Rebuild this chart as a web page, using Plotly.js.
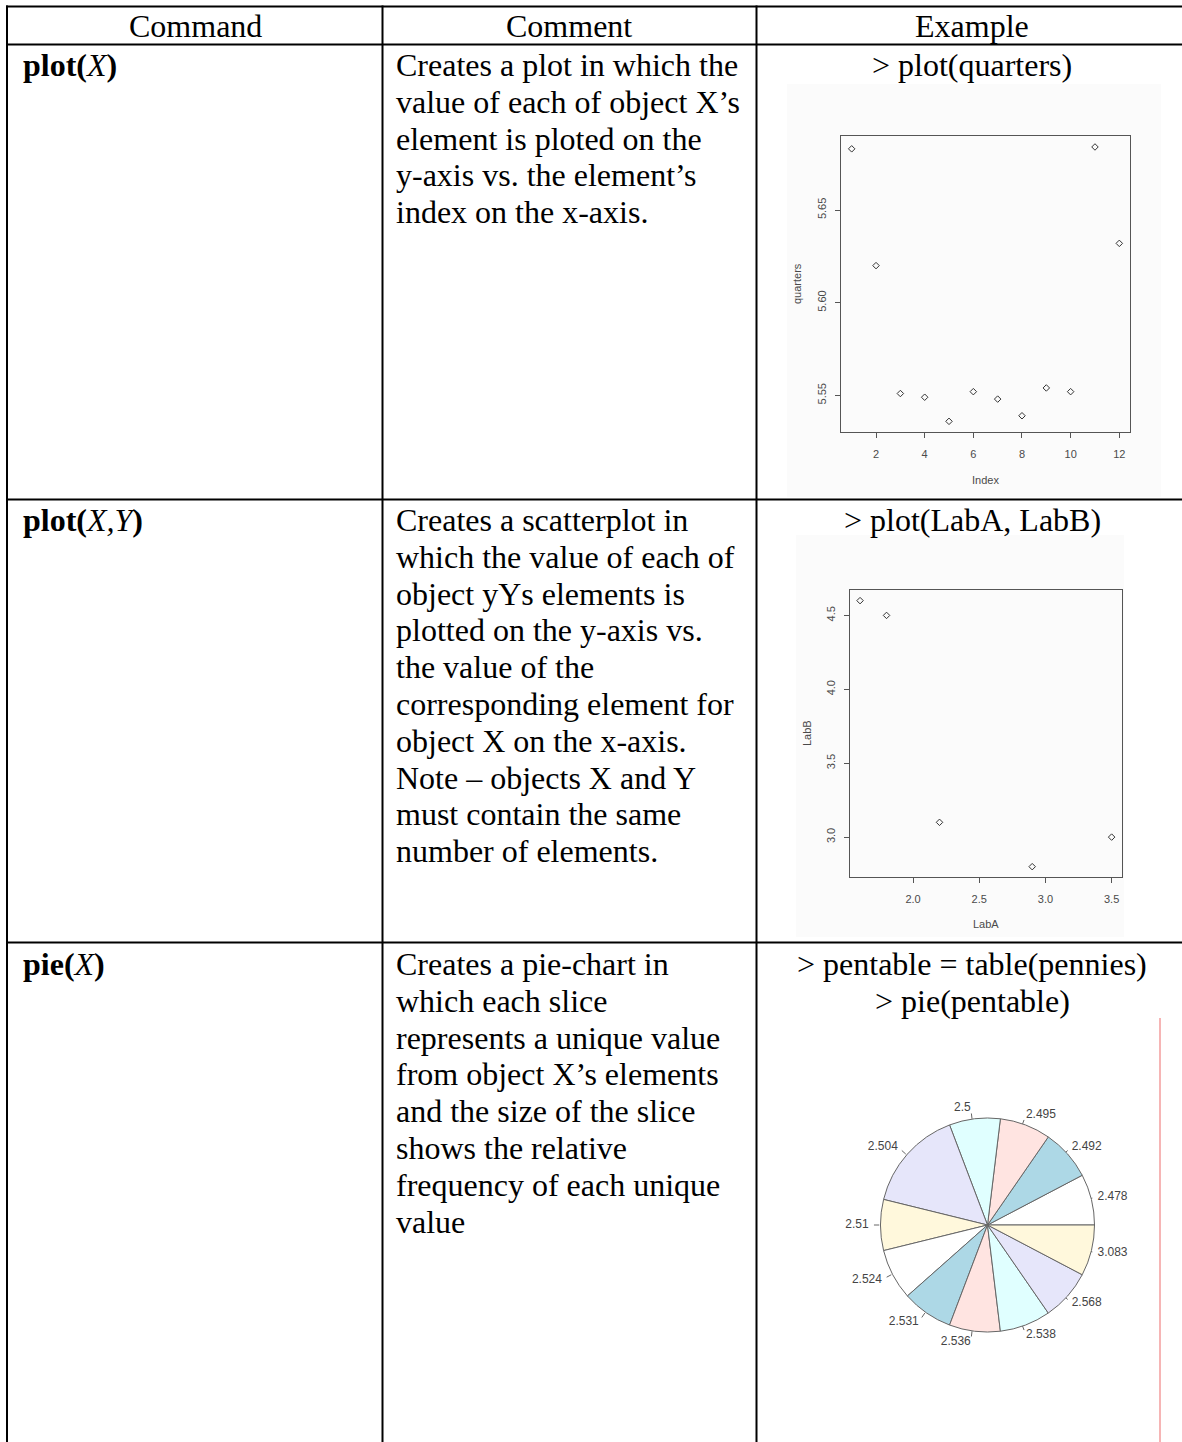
<!DOCTYPE html>
<html>
<head>
<meta charset="utf-8">
<script src="https://cdn.plot.ly/plotly-3.0.1.min.js"></script>
<style>
html,body{margin:0;padding:0;background:#ffffff;}
#chart{width:1182px;height:1442px;}
</style>
</head>
<body>
<div id="chart"></div>
<script>
// ---------------- DATA ----------------
const headers = ['Command', 'Comment', 'Example'];
const commands = [
  '<b>plot(</b><i>X</i><b>)</b>',
  '<b>plot(</b><i>X,Y</i><b>)</b>',
  '<b>pie(</b><i>X</i><b>)</b>'
];
const comment1 = [
  'Creates a plot in which the',
  'value of each of object X\u2019s',
  'element is ploted on the',
  'y-axis vs. the element\u2019s',
  'index on the x-axis.'
];
const comment2 = [
  'Creates a scatterplot in',
  'which the value of each of',
  'object yYs elements is',
  'plotted on the y-axis vs.',
  'the value of the',
  'corresponding element for',
  'object X on the x-axis.',
  'Note \u2013 objects X and Y',
  'must contain the same',
  'number of elements.'
];
const comment3 = [
  'Creates a pie-chart in',
  'which each slice',
  'represents a unique value',
  'from object X\u2019s elements',
  'and the size of the slice',
  'shows the relative',
  'frequency of each unique',
  'value'
];
const example1 = ['&gt; plot(quarters)'];
const example2 = ['&gt; plot(LabA, LabB)'];
const example3 = ['&gt; pentable = table(pennies)', '&gt; pie(pentable)'];

// plot(quarters)
const quartersIndex = [1, 2, 3, 4, 5, 6, 7, 8, 9, 10, 11, 12];
const quarters = [5.683, 5.620, 5.551, 5.549, 5.536, 5.552, 5.548, 5.539, 5.554, 5.552, 5.684, 5.632];
const quartersXTicks = [2, 4, 6, 8, 10, 12];
const quartersYTicks = [5.55, 5.60, 5.65];

// plot(LabA, LabB)
const labA = [1.6, 1.8, 2.2, 2.9, 3.5];
const labB = [4.6, 4.5, 3.1, 2.8, 3.0];
const labAXTicks = [2.0, 2.5, 3.0, 3.5];
const labBYTicks = [3.0, 3.5, 4.0, 4.5];

// pie(pentable)
const pentableLabels = ['2.478', '2.492', '2.495', '2.5', '2.504', '2.51', '2.524', '2.531', '2.536', '2.538', '2.568', '3.083'];
const pentableCounts = [1, 1, 1, 1, 2, 1, 1, 1, 1, 1, 1, 1];
const pieColors = ['white', 'lightblue', 'mistyrose', 'lightcyan', 'lavender', 'cornsilk'];

// ---------------- LAYOUT HELPERS ----------------
const W = 1182, H = 1442;
const px = x => x / W;
const py = y => 1 - y / H;
const serif = 'Liberation Serif, Times New Roman, serif';
const sans = 'Liberation Sans, Arial, sans-serif';
const rGray = '#4a4a4a';

function rRange(arr) {
  const mn = Math.min(...arr), mx = Math.max(...arr);
  const d = (mx - mn) * 0.04;
  return [mn - d, mx + d];
}

const annotations = [];
function addText(text, x, y, xanchor, opts) {
  opts = opts || {};
  annotations.push(Object.assign({
    text: text, x: px(x), y: py(y), xref: 'paper', yref: 'paper',
    xanchor: xanchor, yanchor: 'middle', showarrow: false,
    font: {family: serif, size: 32, color: '#000'}
  }, opts));
}

// header
const colCenters = [195, 569, 972];
headers.forEach((h, i) => addText(h, colCenters[i], 26, 'center'));

const lineStep = 36.8;
const rowFirst = [65, 520, 964];
const comments = [comment1, comment2, comment3];
const examples = [example1, example2, example3];
for (let r = 0; r < 3; r++) {
  addText(commands[r], 21, rowFirst[r], 'left');
  comments[r].forEach((t, k) => addText(t, 394, rowFirst[r] + k * lineStep, 'left'));
  examples[r].forEach((t, k) => addText(t, 972, rowFirst[r] + k * lineStep, 'center'));
}

// R plot axis titles
const smallFont = {family: sans, size: 11, color: rGray};
addText('Index', 985.5, 480, 'center', {font: smallFont});
addText('quarters', 797, 284, 'center', {font: smallFont, textangle: -90});
addText('LabA', 986, 924, 'center', {font: smallFont});
addText('LabB', 807, 733, 'center', {font: smallFont, textangle: -90});

// ---------------- SHAPES (table) ----------------
const shapes = [];
function rect(x0, y0, x1, y1, fill) {
  shapes.push({type: 'rect', xref: 'paper', yref: 'paper', x0: px(x0), x1: px(x1), y0: py(y1), y1: py(y0),
    fillcolor: fill, line: {width: 0}, layer: 'below'});
}
function line(x0, y0, x1, y1, color, width) {
  shapes.push({type: 'line', xref: 'paper', yref: 'paper', x0: px(x0), x1: px(x1), y0: py(y0), y1: py(y1),
    line: {color: color, width: width}});
}
// light image backgrounds of the embedded R plots
rect(787, 84, 1161, 497, '#fbfbfb');
rect(796, 535, 1124, 937, '#fbfbfb');

// table rules
line(6, 6.5, W, 6.5, '#000', 2);
line(6, 44.5, W, 44.5, '#000', 2);
line(6, 499.5, W, 499.5, '#000', 2);
line(6, 942.5, W, 942.5, '#000', 2);
line(7, 5.5, 7, H, '#000', 2);
line(382.5, 5.5, 382.5, H, '#000', 2);
line(756.5, 5.5, 756.5, H, '#000', 2);
// red margin line
line(1160, 1018, 1160, H, '#f4a3a3', 1.6);

// ---------------- PIE GEOMETRY ----------------
const cx = 987.5, cy = 1225, pr = 107;
const total = pentableCounts.reduce((a, b) => a + b, 0);
const tickX = [], tickY = [], labX = [], labY = [], labPos = [];
let cum = 0;
pentableCounts.forEach((c, i) => {
  const mid = 2 * Math.PI * (cum + c / 2) / total;
  cum += c;
  const co = Math.cos(mid), si = Math.sin(mid);
  tickX.push(co, 1.05 * co, null);
  tickY.push(si, 1.05 * si, null);
  labX.push(1.1 * co);
  labY.push(1.1 * si);
  labPos.push(co > 0 ? 'middle right' : 'middle left');
});
// R starts the first slice at 3 o'clock going counterclockwise;
// Plotly (counterclockwise) puts the first slice clockwise of the rotation line.
const pieRotation = 90 - 360 * pentableCounts[0] / total;

// ---------------- TRACES ----------------
const markerStyle = {symbol: 'diamond-open', size: 5, color: '#333', line: {width: 1, color: '#333'}};
const traces = [
  {
    type: 'scatter', mode: 'markers', x: quartersIndex, y: quarters,
    xaxis: 'x', yaxis: 'y', marker: markerStyle, name: 'quarters', showlegend: false
  },
  {
    type: 'scatter', mode: 'markers', x: labA, y: labB,
    xaxis: 'x2', yaxis: 'y2', marker: markerStyle, name: 'LabB', showlegend: false
  },
  {
    type: 'pie', labels: pentableLabels, values: pentableCounts, sort: false,
    direction: 'counterclockwise', rotation: pieRotation, textinfo: 'none', showlegend: false,
    marker: {colors: pentableLabels.map((_, i) => pieColors[i % pieColors.length]), line: {color: '#666', width: 1}},
    domain: {x: [px(cx - pr), px(cx + pr)], y: [py(cy + pr), py(cy - pr)]}
  },
  {
    type: 'scatter', mode: 'lines', x: tickX, y: tickY, xaxis: 'x3', yaxis: 'y3',
    line: {color: '#666', width: 1}, showlegend: false, hoverinfo: 'skip'
  },
  {
    type: 'scatter', mode: 'text', x: labX, y: labY, xaxis: 'x3', yaxis: 'y3',
    text: pentableLabels, textposition: labPos,
    textfont: {family: sans, size: 12, color: '#444'}, showlegend: false, hoverinfo: 'skip'
  }
];

// ---------------- AXES ----------------
function rAxis(domain, range, tickvals, fmt, isY) {
  return {
    domain: domain, range: range, tickmode: 'array', tickvals: tickvals,
    ticktext: tickvals.map(v => fmt ? v.toFixed(fmt) : String(v)),
    showgrid: false, zeroline: false, showline: true, mirror: true,
    linecolor: '#555', linewidth: 1, ticks: 'outside', ticklen: 5, tickcolor: '#555', tickwidth: 1,
    tickfont: {family: sans, size: 11, color: rGray}, tickangle: isY ? -90 : 0,
    ticklabelstandoff: isY ? 5 : 6, fixedrange: true, automargin: false
  };
}

const layout = {
  width: W, height: H, margin: {l: 0, r: 0, t: 0, b: 0},
  paper_bgcolor: '#ffffff', plot_bgcolor: 'rgba(0,0,0,0)', showlegend: false,
  xaxis: Object.assign(rAxis([px(841), px(1130)], rRange(quartersIndex), quartersXTicks, 0, false), {anchor: 'y'}),
  yaxis: Object.assign(rAxis([py(432.3), py(136)], rRange(quarters), quartersYTicks, 2, true), {anchor: 'x'}),
  xaxis2: Object.assign(rAxis([px(850), px(1121.7)], rRange(labA), labAXTicks, 1, false), {anchor: 'y2'}),
  yaxis2: Object.assign(rAxis([py(877.3), py(590)], rRange(labB), labBYTicks, 1, true), {anchor: 'x2'}),
  xaxis3: {domain: [px(cx - 200), px(cx + 200)], range: [-200 / pr, 200 / pr], visible: false, fixedrange: true, anchor: 'y3'},
  yaxis3: {domain: [py(cy + 150), py(cy - 150)], range: [-150 / pr, 150 / pr], visible: false, fixedrange: true, anchor: 'x3'},
  annotations: annotations,
  shapes: shapes
};

Plotly.newPlot('chart', traces, layout, {displayModeBar: false, staticPlot: true});
</script>
</body>
</html>
